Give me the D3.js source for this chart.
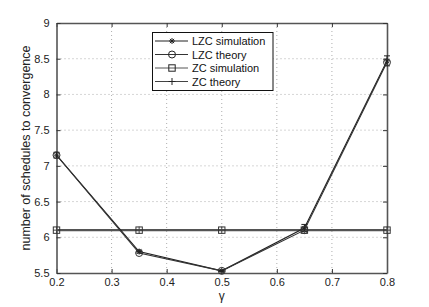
<!DOCTYPE html>
<html><head><meta charset="utf-8">
<script src="https://cdn.jsdelivr.net/npm/d3@7"></script>
<style>body{margin:0;background:#fff}svg{display:block}text{font-family:"Liberation Sans",Arial,sans-serif}</style>
</head><body><svg id="c" width="429" height="307"></svg>
<script>
const gammas = [0.2, 0.35, 0.5, 0.65, 0.8];
const lzcSim = [7.15, 5.80, 5.53, 6.13, 8.47];
const lzcSimErr = [0.04, 0.02, 0.01, 0.05, 0.07];
const lzcTheory = [7.15, 5.78, 5.53, 6.10, 8.45];
const zcSim = [6.10, 6.10, 6.10, 6.10, 6.10];
const zcTheory = [6.10, 6.10, 6.10, 6.10, 6.10];
const xTicks = [0.2, 0.3, 0.4, 0.5, 0.6, 0.7, 0.8];
const yTicks = [5.5, 6, 6.5, 7, 7.5, 8, 8.5, 9];
const legendLabels = ["LZC simulation", "LZC theory", "ZC simulation", "ZC theory"];

const svg = d3.select("#c");
const L = 56.5, R = 387, T = 23, B = 273;
const x = d3.scaleLinear().domain([0.2, 0.8]).range([L, R]);
const y = d3.scaleLinear().domain([5.5, 9]).range([B, T]);

// grid
const g = svg.append("g");
g.selectAll(".gx").data(xTicks.slice(1, -1)).enter().append("line")
  .attr("x1", d => x(d)).attr("x2", d => x(d)).attr("y1", T).attr("y2", B)
  .attr("stroke", "#999").attr("stroke-width", 0.8).attr("stroke-dasharray", "1,3");
g.selectAll(".gy").data(yTicks.slice(1, -1)).enter().append("line")
  .attr("y1", d => y(d)).attr("y2", d => y(d)).attr("x1", L).attr("x2", R)
  .attr("stroke", "#999").attr("stroke-width", 0.8).attr("stroke-dasharray", "1,3");

// axes
const xa = svg.append("g").attr("transform", `translate(0,${B})`)
  .call(d3.axisBottom(x).tickValues(xTicks).tickFormat(d3.format("")).tickSizeInner(-4).tickSizeOuter(0).tickPadding(5));
const xa2 = svg.append("g").attr("transform", `translate(0,${T})`)
  .call(d3.axisTop(x).tickValues(xTicks).tickFormat("").tickSizeInner(-4).tickSizeOuter(0));
const ya = svg.append("g").attr("transform", `translate(${L},0)`)
  .call(d3.axisLeft(y).tickValues(yTicks).tickFormat(d3.format("")).tickSizeInner(-4).tickSizeOuter(0).tickPadding(7));
const ya2 = svg.append("g").attr("transform", `translate(${R},0)`)
  .call(d3.axisRight(y).tickValues(yTicks).tickFormat("").tickSizeInner(-4).tickSizeOuter(0));
[xa, xa2, ya, ya2].forEach(a => {
  a.select(".domain").attr("stroke", "#555").attr("stroke-width", 1.6);
  a.selectAll(".tick line").attr("stroke", "#333");
  a.selectAll("text").attr("font-size", 11).attr("fill", "#222");
});

// labels
svg.append("text").attr("x", (L + R) / 2).attr("y", 300).attr("text-anchor", "middle")
  .attr("font-size", 12).attr("fill", "#222").text("γ");
svg.append("text").attr("transform", `translate(30,${(T + B) / 2}) rotate(-90)`)
  .attr("text-anchor", "middle").attr("font-size", 12.5).attr("fill", "#222")
  .text("number of schedules to convergence");

const line = d3.line().x((d, i) => x(gammas[i])).y(d => y(d));
function series(vals, color, w) {
  svg.append("path").attr("d", line(vals)).attr("fill", "none").attr("stroke", color).attr("stroke-width", w);
}
series(zcTheory, "#555", 2.2);
series(zcSim, "#555", 1.2);
series(lzcSim, "#222", 1.1);
series(lzcTheory, "#333", 1.1);

// error bars on LZC simulation
lzcSimErr.forEach((e, i) => {
  const cx = x(gammas[i]);
  const gg = svg.append("g").attr("stroke", "#222").attr("stroke-width", 1);
  gg.append("line").attr("x1", cx).attr("x2", cx).attr("y1", y(lzcSim[i] - e)).attr("y2", y(lzcSim[i] + e));
  gg.append("line").attr("x1", cx - 3).attr("x2", cx + 3).attr("y1", y(lzcSim[i] + e)).attr("y2", y(lzcSim[i] + e));
  gg.append("line").attr("x1", cx - 3).attr("x2", cx + 3).attr("y1", y(lzcSim[i] - e)).attr("y2", y(lzcSim[i] - e));
});

// markers
function star(gr, cx, cy, c) {
  const r = 3;
  gr.append("path").attr("d", `M${cx - r},${cy}H${cx + r}M${cx},${cy - r}V${cy + r}M${cx - r * 0.7},${cy - r * 0.7}L${cx + r * 0.7},${cy + r * 0.7}M${cx - r * 0.7},${cy + r * 0.7}L${cx + r * 0.7},${cy - r * 0.7}`)
    .attr("stroke", c).attr("stroke-width", 1).attr("fill", "none");
}
function circ(gr, cx, cy, c) {
  gr.append("circle").attr("cx", cx).attr("cy", cy).attr("r", 3.5).attr("fill", "none").attr("stroke", c).attr("stroke-width", 1);
}
function sq(gr, cx, cy, c) {
  gr.append("rect").attr("x", cx - 3.2).attr("y", cy - 3.2).attr("width", 6.4).attr("height", 6.4).attr("fill", "none").attr("stroke", c).attr("stroke-width", 1);
}
function plus(gr, cx, cy, c) {
  gr.append("path").attr("d", `M${cx - 3.5},${cy}H${cx + 3.5}M${cx},${cy - 3.5}V${cy + 3.5}`).attr("stroke", c).attr("stroke-width", 1);
}
const mg = svg.append("g");
zcTheory.forEach((v, i) => plus(mg, x(gammas[i]), y(v), "#444"));
zcSim.forEach((v, i) => sq(mg, x(gammas[i]), y(v), "#333"));
lzcSim.forEach((v, i) => star(mg, x(gammas[i]), y(v), "#222"));
lzcTheory.forEach((v, i) => circ(mg, x(gammas[i]), y(v), "#333"));

// legend
const lg = svg.append("g");
lg.append("rect").attr("x", 152.5).attr("y", 32.5).attr("width", 120.5).attr("height", 58)
  .attr("fill", "#fff").attr("stroke", "#111").attr("stroke-width", 1);
const legendMarkers = [star, circ, sq, plus];
const legendColors = ["#222", "#333", "#555", "#444"];
legendLabels.forEach((lab, i) => {
  const yy = 41 + i * 13.5;
  lg.append("line").attr("x1", 155).attr("x2", 188).attr("y1", yy).attr("y2", yy)
    .attr("stroke", legendColors[i]).attr("stroke-width", 1);
  legendMarkers[i](lg, 172, yy, "#222");
  lg.append("text").attr("x", 192).attr("y", yy + 4).attr("font-size", 11).attr("fill", "#111").text(lab);
});
</script></body></html>
